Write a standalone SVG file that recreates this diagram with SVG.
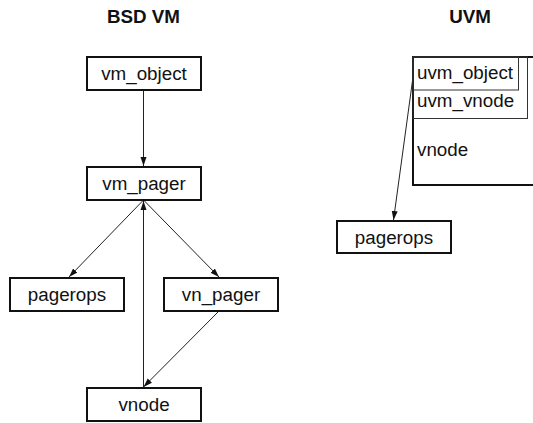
<svg xmlns="http://www.w3.org/2000/svg" width="533" height="423" viewBox="0 0 533 423">
<style>
text{font-family:"Liberation Sans",Arial,sans-serif;font-size:18.8px;fill:#111}
.title{font-weight:bold;text-anchor:middle}
.box{fill:#fff;stroke:#111;stroke-width:2}
.thin{fill:none;stroke:#333;stroke-width:1}
.c{text-anchor:middle}
.edge{stroke:#222;stroke-width:1;fill:none;marker-end:url(#ah)}
</style>
<defs>
<marker id="ah" markerUnits="userSpaceOnUse" markerWidth="10" markerHeight="8" refX="9" refY="3" orient="auto" viewBox="0 0 10 6">
<path d="M0,0 L9,3 L0,6 Z" fill="#111"/>
</marker>
</defs>
<rect width="533" height="423" fill="#fff"/>
<text class="title" x="143.5" y="23">BSD VM</text>
<text class="title" x="470" y="23">UVM</text>
<g id="edges">
<line class="edge" x1="143.5" y1="90" x2="143.5" y2="166"/>
<line class="edge" x1="143.5" y1="200" x2="69" y2="277"/>
<line class="edge" x1="143.5" y1="200" x2="219" y2="277"/>
<line class="edge" x1="219" y1="311" x2="143.5" y2="387"/>
<line class="edge" x1="143.5" y1="387" x2="143.5" y2="201"/>
<line class="edge" x1="413" y1="77" x2="393.5" y2="220"/>
</g>
<g id="vm_object"><rect class="box" x="87" y="57" width="114" height="33"/><text class="c" x="144" y="80">vm_object</text></g>
<g id="vm_pager"><rect class="box" x="87" y="167" width="114" height="33"/><text class="c" x="144" y="190">vm_pager</text></g>
<g id="pagerops"><rect class="box" x="10" y="278" width="114" height="33"/><text class="c" x="67" y="301">pagerops</text></g>
<g id="vn_pager"><rect class="box" x="164" y="278" width="114" height="33"/><text class="c" x="221" y="301">vn_pager</text></g>
<g id="vnode"><rect class="box" x="87" y="388" width="114" height="33"/><text class="c" x="144" y="411">vnode</text></g>
<g id="uvm_vnode_struct">
<path d="M540 57 H413 V185 H540" fill="none" stroke="#111" stroke-width="2"/>
<rect class="thin" x="413" y="57" width="114.5" height="61.5"/>
<rect class="thin" x="413" y="57" width="105.5" height="33"/>
<text x="417" y="78.5">uvm_object</text>
<text x="417" y="106.5">uvm_vnode</text>
<text x="417" y="156">vnode</text>
</g>
<g id="uvm_pagerops"><rect class="box" x="337" y="221" width="114" height="32"/><text class="c" x="394" y="243.5">pagerops</text></g>
</svg>
